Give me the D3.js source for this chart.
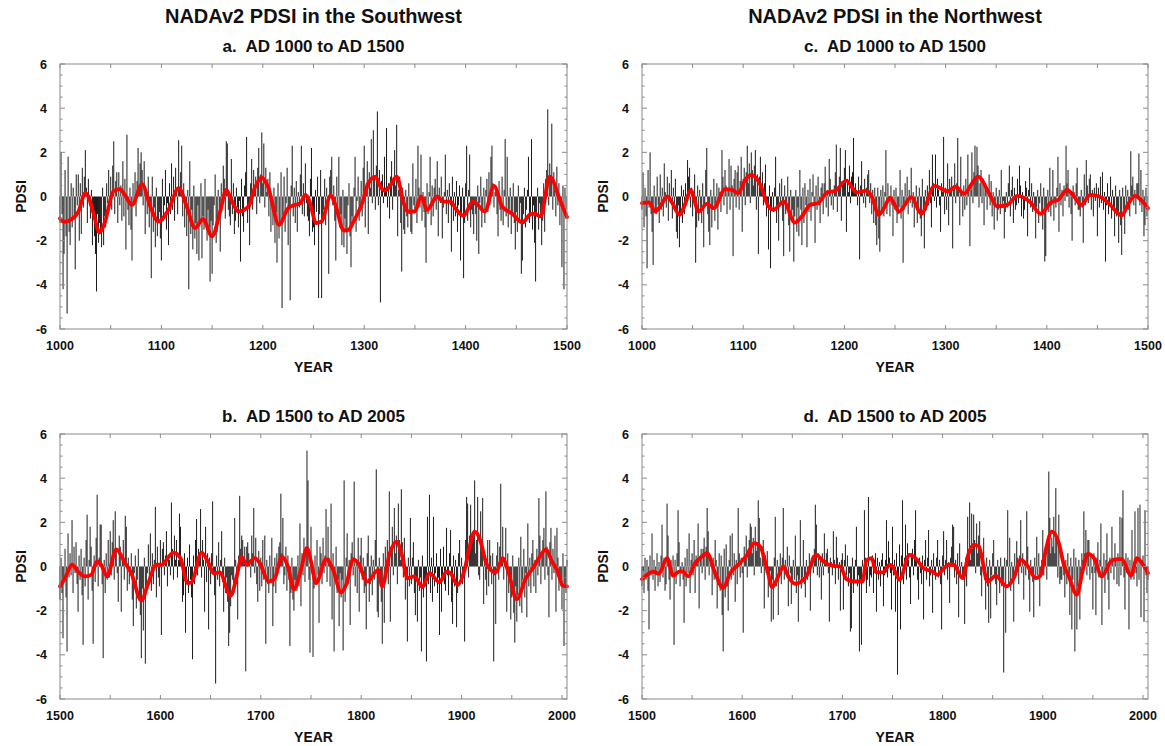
<!DOCTYPE html>
<html><head><meta charset="utf-8">
<script src="https://cdn.jsdelivr.net/npm/d3@7"></script>
<style>
body{margin:0;background:#fff}
svg{display:block}
text{font-family:"Liberation Sans",Arial,Helvetica,sans-serif;font-weight:bold;fill:#111;white-space:pre}
</style>
</head><body>
<svg id="chart" width="1165" height="746">
  <defs>
    <filter id="soft" x="-0.01" y="-0.01" width="1.02" height="1.02">
      <feGaussianBlur stdDeviation="0.45 0.2"/>
    </filter>
  </defs>
</svg>
<script>
// ---------------- DATA ----------------
const titles = ["NADAv2 PDSI in the Southwest", "NADAv2 PDSI in the Northwest"];
const subtitles = ["a.  AD 1000 to AD 1500", "b.  AD 1500 to AD 2005", "c.  AD 1000 to AD 1500", "d.  AD 1500 to AD 2005"];
const yTickLabels = [-6, -4, -2, 0, 2, 4, 6];
const xTickLabelsEarly = [1000, 1100, 1200, 1300, 1400, 1500];
const xTickLabelsLate = [1500, 1600, 1700, 1800, 1900, 2000];
const axisTitleX = "YEAR";
const axisTitleY = "PDSI";

// a. Southwest annual PDSI, AD 1000-1499
const swEarly = [
-1.2,2.0,-0.8,-4.2,-2.6,1.2,-1.8,-5.3,1.8,-1.6,
-2.2,0.6,-1.4,0.4,-0.9,-3.3,1.0,-0.4,1.0,-2.0,
0.6,-1.7,1.3,-0.5,0.9,2.1,0.4,-1.2,0.8,-0.4,
-1.0,0.3,-2.2,-0.6,-1.8,-2.6,-4.3,-0.8,-2.1,-1.2,
-1.6,-2.3,0.4,-2.2,-0.9,-1.4,0.6,-0.3,1.2,-0.5,
0.9,-0.6,1.4,2.5,-0.8,0.7,1.1,-1.2,1.1,-0.4,
0.5,-1.1,1.6,-0.9,0.8,-2.4,2.8,-0.6,-1.3,0.4,
-1.5,-2.9,0.6,-0.3,1.1,-0.9,0.7,2.2,0.4,1.5,
2.0,1.2,-0.4,1.6,-1.7,0.3,-0.8,0.9,-1.4,-0.6,
-3.7,0.9,-1.6,-0.5,-2.3,0.4,-1.8,-1.2,-0.7,-1.9,
-2.9,0.8,-1.1,-0.4,1.2,-1.5,-0.3,-2.2,0.6,-0.8,
1.5,-0.6,0.9,-1.1,1.3,0.2,-0.8,2.55,0.4,1.1,
2.3,-0.9,0.6,-1.4,-0.2,-1.8,0.3,-4.2,1.6,-1.7,
-0.6,-2.4,0.5,-1.9,-1.2,-2.6,-0.4,-2.9,-1.1,0.6,
-2.8,-0.9,-1.5,0.8,-1.2,-2.0,-0.6,-1.4,-3.85,-1.1,
-3.5,-1.3,-0.4,1.0,-2.1,-1.6,0.3,-0.9,-2.5,0.6,
-0.4,1.4,0.8,-1.0,2.5,2.4,-0.6,-0.9,-1.3,1.7,
-0.8,0.6,-1.7,-1.1,0.4,-0.5,-1.4,-0.2,-2.95,0.8,
-0.9,-1.6,0.5,1.1,2.7,-1.2,-0.4,-2.2,0.6,1.7,
-0.6,1.2,0.4,0.9,-0.8,1.3,2.2,-0.3,1.0,2.9,
0.6,2.4,-0.5,1.3,0.2,0.8,-0.9,1.1,-1.6,-0.4,
-1.3,0.4,-2.1,-0.7,-3.0,0.6,-1.9,-1.2,1.1,-5.05,
-0.8,0.9,-1.6,-0.3,1.3,-2.2,-0.6,-4.7,0.5,2.3,
-0.9,0.4,-1.2,0.7,-1.6,0.2,-0.5,1.0,2.3,-0.8,
0.6,-0.9,1.5,-0.3,-0.9,-1.1,-1.8,0.8,2.2,-1.6,
-1.4,-2.2,0.3,-0.7,0.9,-4.6,-0.8,1.2,-4.6,-1.1,
-0.6,0.8,-1.3,0.4,-0.2,-3.5,0.9,1.2,1.8,-0.4,
0.5,-1.1,-2.9,0.9,-0.6,1.8,-1.4,-0.8,-2.2,0.3,
-2.3,-1.0,-1.6,-2.6,-0.4,0.6,-1.8,-3.2,-0.9,-1.3,
0.4,1.8,-1.6,-0.2,0.9,-1.1,-0.5,0.7,-0.9,1.3,
2.3,-1.4,0.6,1.6,-1.7,1.1,0.4,2.6,-0.3,3.0,
0.9,-0.6,1.4,3.85,-0.4,1.2,-4.8,0.7,1.0,-0.3,
1.8,0.4,3.1,-0.5,0.6,-1.0,0.9,1.6,-0.6,0.8,
2.1,0.5,3.25,-1.8,0.3,0.9,-1.2,-3.4,0.4,-1.5,
-1.7,0.3,-0.9,-1.4,0.6,-0.8,-1.6,-1.7,1.5,-0.4,
-0.6,0.8,-1.2,2.3,0.4,-0.5,1.9,-1.1,0.2,-0.7,
-1.4,-3.0,0.6,-0.8,0.2,1.8,-1.3,0.5,-0.9,0.4,
0.8,-0.6,1.6,-1.8,0.4,-0.3,0.9,-1.9,-0.5,0.2,
1.9,-0.8,0.3,-1.2,0.6,-0.4,-2.5,0.9,-1.1,0.2,
-0.9,0.7,-1.6,-0.4,0.5,-2.9,-0.8,0.4,-3.7,-1.2,
0.6,2.3,-1.1,0.3,1.9,-1.4,-0.6,-0.8,-1.7,-0.4,
-0.8,-2.0,0.5,-2.6,-0.3,0.9,-1.4,-0.6,0.4,-1.2,
0.3,0.8,-0.7,1.1,-0.4,1.8,2.3,0.6,-0.5,0.2,
0.4,-0.8,-1.8,0.7,-0.6,-1.1,0.9,-1.3,0.3,2.6,
-0.9,1.8,-1.4,-0.6,0.4,-1.7,-0.8,0.6,-1.2,-2.4,
-0.7,-1.6,0.5,-1.1,-0.3,-3.5,-2.9,-0.8,0.4,-1.4,
-0.6,0.3,1.8,-1.2,-0.9,2.6,-1.5,-0.4,-2.1,-3.85,
-0.8,0.4,-1.5,-0.3,-0.9,-2.2,-1.1,0.6,-1.6,0.8,
1.2,3.95,-0.4,1.5,0.8,3.3,-0.6,1.1,0.3,-0.9,
1.35,-0.4,0.6,-1.3,-0.2,-3.2,0.5,-4.2,0.4,-0.6
];

// c. Northwest annual PDSI, AD 1000-1499
const nwEarly = [
-0.6,1.1,-1.4,0.4,-0.9,-3.25,1.2,-0.5,2.0,-0.8,
-1.6,-3.1,0.5,-0.7,-0.8,0.9,-0.4,-1.2,1.0,-0.6,
0.4,-0.9,1.5,0.2,-0.5,0.9,-1.1,0.6,-0.3,1.2,
-1.0,0.4,-0.6,0.8,-1.6,-1.9,-0.4,-2.3,-0.8,0.5,
-1.2,0.3,-0.8,0.6,-0.3,1.65,0.9,1.3,-0.5,0.4,
-0.9,0.2,1.0,-3.0,-1.4,0.5,-1.1,0.3,-0.6,-1.2,
0.6,-2.3,-0.4,1.2,2.2,-0.8,-1.6,-2.2,0.3,-1.4,
-0.5,0.8,-1.1,-0.3,0.6,-1.5,0.4,0.2,-0.7,2.1,
0.9,-0.4,1.2,0.5,-0.8,0.3,1.7,-0.6,1.4,0.5,
-2.7,0.8,1.2,-0.5,1.1,1.4,-0.6,0.7,1.8,-1.6,
0.8,1.3,-0.4,1.1,2.3,0.6,1.5,-0.3,2.0,1.2,
0.5,1.4,2.1,-0.6,1.0,-2.6,0.9,1.8,0.4,1.1,
-0.4,0.6,1.45,-0.9,-0.3,-2.4,0.5,-3.25,-0.6,0.2,
-0.7,0.4,1.8,-1.2,-0.5,-2.0,0.6,-0.3,0.8,-1.1,
-2.7,0.5,-0.8,-0.4,0.9,-1.3,-2.5,0.3,-1.1,-0.6,
-2.95,-0.9,0.3,-1.6,-0.5,-1.8,1.2,-0.6,-2.2,0.4,
-1.2,0.6,-0.4,-2.3,0.3,-0.7,0.8,-1.1,0.2,1.0,
-0.3,-2.1,0.5,-0.6,0.9,-0.4,-1.2,0.4,0.6,-0.8,
0.6,1.35,-0.5,0.3,-0.9,1.7,0.8,-0.4,0.2,-0.6,
0.5,1.1,2.35,-0.7,0.4,0.9,2.2,-1.1,0.7,0.6,
1.3,2.1,-1.6,0.8,0.2,1.4,-0.3,0.9,1.1,2.65,
0.4,0.6,0.3,-0.4,0.9,-2.85,0.5,1.6,0.2,-0.3,
0.8,-0.5,0.4,1.0,1.2,-0.3,0.6,-0.8,0.3,-1.2,
0.4,-1.3,-2.2,0.4,-1.9,-2.5,0.3,-0.8,0.5,-0.9,
0.2,2.1,-0.8,0.6,-0.2,-0.9,0.5,-0.4,-1.8,0.3,
-0.6,0.4,-1.2,-0.8,-0.5,1.2,-1.0,0.3,-3.0,-0.6,
0.6,-0.4,0.9,-0.8,0.3,-0.3,1.3,-0.5,0.2,-1.4,
-0.3,0.5,-1.2,-0.6,0.4,-1.0,-1.8,0.8,-0.7,-2.35,
0.3,-0.6,0.5,-0.4,1.2,-0.3,-1.4,1.9,0.6,-0.2,
1.9,-0.5,0.8,0.3,-0.4,-1.6,0.6,0.2,2.7,-0.8,
0.4,-0.6,1.5,-1.3,0.8,0.2,0.9,-2.35,0.5,1.5,
-0.3,0.6,2.65,0.4,-1.3,1.8,0.2,-0.9,0.5,-0.6,
0.8,-0.4,1.9,0.5,-2.25,0.3,2.0,-0.3,1.1,2.3,
0.9,2.25,1.4,-0.5,0.6,1.2,-0.3,0.8,-1.3,0.4,
0.5,-0.6,0.3,1.0,-0.4,0.7,-0.9,0.2,-1.5,-0.3,
0.4,-1.1,-0.6,0.3,-0.8,1.2,-0.4,-0.2,-1.9,-0.7,
0.2,-0.5,0.6,1.4,-0.9,0.3,0.9,-1.2,0.4,-0.6,
-0.4,0.8,-0.3,1.4,0.5,-0.9,0.2,-1.0,-0.6,0.7,
0.4,-1.8,0.3,1.3,-0.5,0.6,-0.7,0.2,-0.4,-1.9,
-0.5,0.3,-1.2,-0.3,0.6,-0.8,-1.5,0.4,-2.95,-2.7,
-0.6,0.3,-0.7,1.3,-0.9,-0.4,1.2,-1.1,-0.3,-0.5,
0.4,1.8,-1.6,0.6,-0.4,0.3,-0.9,0.5,-0.2,2.3,
0.6,1.2,-0.5,0.3,-0.8,-2.0,0.5,0.2,-0.4,0.6,
1.3,-0.6,-0.6,-0.9,0.3,-0.5,-2.1,1.0,-0.4,1.65,
0.5,-0.3,0.8,1.0,-0.6,0.3,-0.9,0.4,-0.2,0.6,
-1.8,0.4,-0.5,0.9,-0.3,1.1,-0.6,0.2,-2.95,-0.4,
0.6,-0.8,-0.4,0.9,-1.0,0.3,-0.6,-1.8,0.5,-0.9,
-0.7,-2.1,0.3,-1.3,-2.65,0.4,-0.6,-1.7,0.5,-0.4,
0.3,-0.6,-0.9,2.05,0.5,0.9,-0.4,0.3,-0.8,0.6,
0.6,1.95,-0.4,1.2,-0.7,0.3,-1.8,-1.3,0.4,-0.9
];

// b. Southwest annual PDSI, AD 1500-2005
const swLate = [
-1.5,0.4,-1.2,-3.25,-0.6,0.8,-1.4,-3.85,1.5,-0.5,
0.6,-0.4,2.1,-1.2,0.9,-0.3,1.1,-0.8,-2.05,0.5,
-0.6,0.8,-1.3,-3.55,0.4,-0.9,1.2,2.35,-1.5,0.3,
1.8,0.9,-1.1,-3.5,0.5,-0.7,1.3,3.25,-0.9,0.4,
1.9,1.9,-0.8,-4.15,0.3,-1.2,0.6,-0.6,1.2,-0.5,
1.6,-0.4,1.1,2.1,-0.6,2.5,0.8,-0.3,-1.6,1.4,
0.9,-2.05,0.5,1.2,-0.6,2.3,1.8,-1.1,0.4,-0.8,
-0.4,0.6,-1.5,-2.7,-0.3,0.5,-1.9,-0.6,0.8,-1.3,
-2.2,-4.15,-1.0,-2.9,0.4,-4.4,-1.2,-0.3,1.0,-0.6,
1.5,-1.1,0.6,-0.8,0.3,2.7,-1.4,0.9,-0.5,-0.9,
1.2,-3.1,0.8,1.1,-0.4,0.5,1.6,-0.9,0.4,0.3,
-0.4,2.9,0.8,-0.6,1.4,0.3,1.2,-0.5,0.3,2.4,
1.8,0.3,-1.6,-1.3,0.6,-3.0,-0.8,0.4,-1.2,1.0,
-0.6,-1.4,-4.2,0.5,-0.8,1.2,2.15,-0.4,0.8,0.3,
2.6,-0.5,1.2,0.3,-2.05,1.8,-0.7,0.6,-2.85,0.4,
-0.8,0.6,2.95,-0.4,-1.3,-5.3,0.5,-0.6,1.1,-0.9,
0.3,1.6,-0.7,-2.05,0.4,-1.2,-0.5,-1.6,-3.6,-3.0,
-1.8,-0.4,-0.6,-1.2,2.2,0.3,-0.8,-2.4,0.5,3.2,
0.8,1.4,1.2,0.4,0.9,-4.75,0.9,1.1,0.6,0.3,
-0.5,1.4,0.6,2.65,-0.3,1.3,-0.8,-1.6,0.7,-1.1,
0.4,-0.9,1.2,-0.6,1.4,-3.5,0.3,-0.8,-1.2,0.5,
-0.6,1.3,-2.7,-0.9,0.4,-1.2,0.6,-0.3,0.9,1.1,
3.3,0.6,2.2,-0.8,-0.4,0.9,-1.1,0.5,-0.6,-3.6,
-1.2,0.4,-1.5,-2.0,-0.6,-0.9,-1.1,0.5,-0.9,1.95,
-1.8,0.6,-0.4,1.3,-0.7,0.9,5.25,3.9,-0.6,-3.9,
1.8,-0.3,-4.1,-1.0,0.5,-0.6,1.2,-0.4,-2.55,0.9,
0.6,-0.8,1.3,-0.3,0.5,2.6,-0.7,1.8,0.4,-0.9,
2.85,-2.4,0.6,-3.85,-0.5,0.9,-1.2,-0.6,-2.7,-0.3,
-1.4,-0.6,-3.8,3.9,-1.6,0.4,1.5,-0.8,0.3,-2.65,
0.6,1.1,-0.4,3.85,-0.9,0.3,-1.2,1.3,-2.05,0.5,
1.3,-0.6,0.4,-1.2,-0.9,-2.85,0.6,1.4,-1.6,-0.8,
0.5,-1.3,0.3,-0.6,1.2,4.4,-2.05,-2.3,0.4,-0.9,
-1.6,-3.5,0.6,-2.55,0.9,-0.4,1.2,-0.8,3.4,-2.5,
0.9,1.8,-0.4,2.65,0.6,1.4,-0.8,2.85,1.2,0.3,
3.5,1.1,-0.5,1.3,-1.5,-0.6,-3.4,0.4,-0.9,2.2,
-0.8,0.4,1.1,-1.2,-2.2,-0.6,-2.5,0.3,-1.1,-0.5,
-3.85,0.5,-1.4,-0.6,-0.9,-4.3,2.25,-0.8,3.25,-1.2,
0.4,-1.6,2.25,-0.9,-0.3,0.6,-1.2,-0.5,-3.1,0.8,
-2.05,-0.6,0.9,-0.8,-1.1,1.75,-0.4,-1.3,0.6,1.65,
-1.6,-2.6,0.5,-0.9,0.3,-2.75,-1.2,0.6,1.2,-0.7,
0.4,-0.8,-0.3,-3.4,1.2,3.15,2.85,-0.5,1.4,2.8,
1.2,1.5,1.65,3.9,0.6,1.2,3.15,-0.4,-0.6,2.5,
0.8,3.1,-1.7,0.4,-0.6,-1.3,1.2,-0.9,1.2,0.5,
-0.8,0.6,-4.3,-0.4,-2.6,0.5,1.1,-0.6,0.9,3.75,
0.3,1.8,-0.6,0.4,1.75,-2.05,0.6,-1.2,-0.4,-2.4,
-1.4,0.5,-2.1,-3.45,-0.9,-2.5,-1.3,0.4,-1.8,1.35,
-2.1,-0.6,0.8,-1.4,-0.3,-2.3,1.95,-0.9,0.4,-1.2,
0.6,1.2,-0.9,0.3,-1.2,0.8,-0.4,3.1,1.4,-0.8,
0.5,1.2,1.75,-0.6,3.4,0.9,-0.4,-2.3,1.1,1.75,
-0.6,0.8,-0.3,1.4,-2.05,1.75,0.4,-1.1,-0.6,-0.9,
-1.95,0.6,-3.6,-0.8,-1.2,0.3
];

// d. Northwest annual PDSI, AD 1500-2005
const nwLate = [
-0.9,-0.2,-1.2,0.4,-0.6,0.3,-1.1,-2.85,0.5,-0.4,
1.5,-0.6,0.3,-1.1,-0.4,0.6,-0.9,0.2,-0.7,0.5,
1.9,-0.5,0.4,-1.1,-0.8,2.85,1.4,-0.6,-1.5,0.3,
-0.4,0.5,-3.55,0.3,-0.8,0.6,2.55,1.1,-0.9,-0.3,
0.2,-0.6,-2.55,0.4,-0.9,0.8,-0.3,1.5,-1.2,0.3,
0.6,-0.4,1.2,-1.2,0.5,0.3,1.95,-1.9,0.4,0.8,
-0.3,0.8,1.3,-0.6,0.9,2.65,1.6,-0.4,0.5,0.2,
-1.3,0.4,-0.6,1.2,0.3,-1.9,-0.8,0.6,-1.1,0.5,
-2.2,-3.85,0.8,-1.4,1.0,-0.9,-2.0,0.3,1.4,-0.6,
1.5,-0.4,0.6,-1.6,0.3,-0.8,2.65,0.6,-0.5,0.4,
-0.3,-3.0,0.9,0.4,1.4,-0.5,0.8,1.2,1.95,1.8,
0.6,1.3,-0.4,1.8,0.7,1.1,3.0,2.2,0.4,-0.3,
0.9,1.2,-1.9,0.5,-0.3,0.7,-1.4,-0.8,-0.2,-2.5,
-0.6,-2.4,0.4,2.25,-0.9,0.3,-2.2,-0.5,0.6,-0.8,
0.4,2.65,-0.6,0.3,-0.4,0.9,-1.8,0.5,-0.3,-1.7,
-0.8,0.3,-0.6,1.4,-1.2,-0.4,-2.5,-0.6,2.1,-1.0,
-0.5,1.2,-0.8,-1.4,0.3,-0.6,-0.3,0.6,-2.0,0.4,
0.5,-0.3,0.8,2.8,1.9,-0.4,0.6,-0.5,0.3,-1.5,
0.6,-0.4,1.5,0.3,0.6,0.8,-0.3,-2.5,0.4,0.2,
-0.4,1.6,0.3,-0.8,1.35,0.4,-0.6,0.2,-2.0,0.3,
0.6,-1.95,0.3,1.0,-0.4,0.5,-0.9,-0.3,-2.95,-2.8,
0.4,-1.2,-0.6,0.3,1.8,-0.9,-0.4,-3.85,-0.6,-3.55,
0.3,-0.6,2.55,0.4,-1.2,-0.6,3.15,-0.9,-0.4,-0.5,
0.5,-1.2,0.3,0.6,-2.05,0.4,-0.6,0.2,-0.9,0.3,
0.6,-1.8,-0.4,0.3,2.1,-0.5,1.15,0.4,-0.3,-1.95,
1.8,-0.4,0.3,-2.05,0.6,-4.9,-0.6,1.0,-2.85,0.5,
3.0,-0.8,0.4,1.9,-0.6,1.05,0.3,-0.5,-1.7,0.6,
0.8,-0.4,1.2,2.55,0.3,-0.6,-1.5,0.4,-0.3,-0.8,
0.5,-2.4,0.3,1.2,-0.6,0.4,1.65,-0.9,-0.4,0.3,
-2.1,0.6,-0.3,-0.6,0.4,1.2,-0.5,0.3,-0.8,-2.85,
0.5,1.6,-0.4,0.3,1.2,-0.6,0.2,-1.65,0.4,0.9,
1.9,1.8,-0.5,0.3,-0.8,0.6,-2.3,1.05,-0.4,0.2,
-0.6,-0.3,-2.6,0.4,-0.9,2.25,0.6,2.9,0.3,2.4,
0.8,2.35,1.2,-0.3,1.95,0.6,1.4,2.05,-0.4,-1.35,
0.5,1.3,-0.6,-1.95,0.4,-0.9,-2.55,0.3,-2.35,-0.4,
0.6,1.2,-0.5,-0.8,-1.75,0.3,-0.6,-1.2,0.4,-0.9,
-0.6,-4.8,0.4,-3.0,0.3,2.55,-0.8,1.3,-1.1,0.2,
-0.5,-2.5,0.6,-0.3,1.15,0.4,-0.8,0.5,2.1,-0.3,
0.6,-1.5,0.3,-0.4,2.5,0.9,-0.6,-2.05,0.3,-0.4,
-0.7,-2.3,0.4,-0.6,1.35,-0.4,0.6,-1.8,-0.5,0.3,
1.65,-0.4,0.8,0.5,-0.6,1.2,4.3,2.2,0.6,1.3,
0.9,2.25,0.6,3.55,1.2,-0.5,2.35,-0.8,-0.6,-0.6,
0.5,-0.4,-1.4,0.3,-0.8,0.6,-0.3,-2.2,0.4,-2.85,
-0.6,0.8,-3.85,0.4,-2.85,-0.9,0.3,-2.4,-0.5,0.6,
0.3,2.5,0.6,1.65,-0.4,1.2,1.2,-0.6,0.5,-0.3,
-1.95,0.6,-0.3,-2.2,0.4,1.1,-0.5,0.3,1.95,-2.65,
-0.4,0.6,-1.2,0.3,1.5,-0.6,-1.95,0.4,-0.3,1.8,
0.4,-0.6,1.05,0.3,-0.8,0.6,-0.9,2.25,-0.4,2.2,
3.45,-0.5,-1.95,0.6,-0.3,0.4,-2.85,0.3,-0.6,1.65,
-0.4,-0.6,2.5,-0.3,-0.9,2.65,-0.6,2.8,-2.3,0.3,
0.5,-2.5,2.55,-0.4,-1.2,-0.6
];

// smoothed (red) curves, [year, PDSI] read at turning points
const swEarlySmooth = [[1000,-1.0],[1004,-1.15],[1011,-1.05],[1018,-0.7],[1025,0.15],[1028,0],[1033,-0.75],[1039,-1.63],[1044,-1.2],[1053,0.25],[1059,0.33],[1064,0.07],[1071,-0.38],[1081,0.56],[1089,-0.45],[1097,-1.13],[1107,-0.6],[1117,0.38],[1125,-0.45],[1133,-1.43],[1141,-1.03],[1150,-1.8],[1158,-0.68],[1164,0.3],[1169,-0.15],[1176,-0.68],[1186,-0.45],[1192,0.38],[1199,0.86],[1205,0.45],[1216,-1.28],[1225,-0.53],[1230,-0.41],[1237,-0.3],[1242,0.07],[1245,-0.1],[1253,-1.2],[1258,-1.13],[1267,0.05],[1271,-0.3],[1280,-1.54],[1285,-1.5],[1289,-1.18],[1298,-0.3],[1304,0.6],[1311,0.9],[1316,0.45],[1320,0.26],[1325,0.45],[1332,0.9],[1339,-0.3],[1343,-0.68],[1350,-0.68],[1356,0],[1362,-0.6],[1372,0],[1378,-0.23],[1385,-0.23],[1391,-0.6],[1398,-0.87],[1407,-0.23],[1411,-0.33],[1419,-0.68],[1428,0.48],[1436,-0.45],[1446,-0.78],[1456,-1.18],[1464,-0.8],[1468,-0.78],[1474,-0.9],[1483,0.9],[1493,-0.15],[1500,-0.93]];
const nwEarlySmooth = [[1000,-0.3],[1007,-0.27],[1013,-0.68],[1018,-0.45],[1025,0],[1030,-0.3],[1037,-0.83],[1043,-0.3],[1048,0.3],[1056,-0.68],[1064,-0.33],[1071,-0.53],[1082,0.33],[1089,0.3],[1095,0.15],[1102,0.75],[1108,0.98],[1117,0.53],[1125,-0.45],[1130,-0.6],[1140,-0.23],[1151,-1.18],[1158,-0.9],[1166,-0.38],[1174,-0.3],[1183,0.18],[1191,0.26],[1202,0.72],[1212,0.18],[1222,0.27],[1227,0],[1234,-0.83],[1240,-0.45],[1245,-0.05],[1248,-0.23],[1254,-0.68],[1266,-0.03],[1276,-0.78],[1289,0.48],[1302,0.23],[1310,0.45],[1318,0.12],[1332,0.9],[1343,0.15],[1351,-0.45],[1361,-0.38],[1371,0.03],[1383,-0.23],[1394,-0.78],[1404,-0.27],[1412,-0.12],[1420,0.3],[1427,0],[1434,-0.38],[1443,0.07],[1452,0],[1461,-0.3],[1474,-0.85],[1481,-0.3],[1487,0.03],[1493,-0.15],[1500,-0.53]];
const swLateSmooth = [[1500,-0.9],[1505,-0.53],[1512,0.08],[1518,-0.23],[1525,-0.45],[1531,-0.38],[1537,0.23],[1541,0.08],[1547,-0.45],[1556,0.78],[1565,0.15],[1571,-0.3],[1581,-1.54],[1588,-0.75],[1596,0.08],[1601,0.08],[1613,0.63],[1620,0.38],[1627,-0.75],[1631,-0.72],[1641,0.63],[1648,0.15],[1653,-0.3],[1659,-0.27],[1670,-1.33],[1676,-0.45],[1681,0.42],[1686,0.08],[1694,0.38],[1699,0.15],[1708,-0.68],[1714,-0.53],[1721,0.45],[1727,0],[1733,-1.03],[1740,-0.15],[1746,0.83],[1750,0.23],[1755,-0.75],[1765,0.33],[1772,-0.15],[1780,-1.18],[1785,-0.83],[1792,0.33],[1797,0.15],[1806,-0.68],[1817,-0.15],[1821,-0.9],[1828,0.53],[1835,1.13],[1841,0.45],[1846,-0.53],[1853,-0.45],[1861,-0.93],[1868,-0.3],[1878,-0.72],[1885,-0.23],[1889,-0.3],[1896,-0.83],[1903,-0.15],[1908,0.9],[1913,1.58],[1919,1.13],[1924,0.23],[1931,-0.23],[1934,-0.27],[1941,0.38],[1946,-0.15],[1955,-1.48],[1964,-0.53],[1971,-0.08],[1977,0.38],[1984,0.78],[1990,0.23],[1995,-0.15],[2001,-0.87],[2005,-0.9]];
const nwLateSmooth = [[1500,-0.57],[1505,-0.38],[1511,-0.23],[1517,-0.33],[1525,0.38],[1531,-0.42],[1537,-0.23],[1541,-0.23],[1546,-0.45],[1553,0.15],[1558,0.38],[1565,0.6],[1573,-0.3],[1581,-0.98],[1588,-0.3],[1596,0.08],[1605,0.53],[1612,1.06],[1618,0.9],[1625,-0.15],[1630,-0.93],[1636,-0.45],[1641,0],[1646,-0.45],[1653,-0.78],[1664,-0.45],[1674,0.53],[1681,0.23],[1691,0.03],[1698,0],[1704,-0.57],[1712,-0.68],[1720,-0.68],[1724,0.27],[1729,0.38],[1734,-0.27],[1741,-0.27],[1747,0.08],[1750,0],[1757,-0.6],[1767,0.53],[1773,0.38],[1781,-0.08],[1790,-0.23],[1795,-0.38],[1800,-0.15],[1806,0.08],[1811,0.08],[1820,-0.53],[1826,0.6],[1831,0.98],[1836,0.93],[1845,-0.68],[1853,-0.42],[1864,-0.9],[1871,-0.53],[1878,0.3],[1884,0.08],[1893,-0.53],[1898,-0.38],[1903,0.75],[1909,1.58],[1916,1.06],[1921,0.08],[1926,-0.45],[1934,-1.28],[1940,-0.15],[1945,0.57],[1951,0.38],[1959,-0.45],[1968,0.23],[1974,0.33],[1979,0.33],[1988,-0.42],[1994,0.38],[1999,0.15],[2005,-0.3]];

// ---------------- LAYOUT ----------------
const svg = d3.select("#chart");
const frameColor = "#8a8a8a";
const barColor = "#1e1e1e";
const lineColor = "#ff0000";

const panels = [
  {vals: swEarly, smooth: swEarlySmooth, first: 1000, domain: [1000, 1500], xt: xTickLabelsEarly, sub: subtitles[0], x0: 60, x1: 567, y0: 64, y1: 329},
  {vals: swLate,  smooth: swLateSmooth,  first: 1500, domain: [1500, 2005], xt: xTickLabelsLate,  sub: subtitles[1], x0: 60, x1: 567, y0: 434, y1: 699},
  {vals: nwEarly, smooth: nwEarlySmooth, first: 1000, domain: [1000, 1500], xt: xTickLabelsEarly, sub: subtitles[2], x0: 642, x1: 1148, y0: 64, y1: 329},
  {vals: nwLate,  smooth: nwLateSmooth,  first: 1500, domain: [1500, 2005], xt: xTickLabelsLate,  sub: subtitles[3], x0: 642, x1: 1148, y0: 434, y1: 699}
];

// column titles
[[titles[0], (60 + 567) / 2], [titles[1], (642 + 1148) / 2]].forEach(([t, cx]) => {
  svg.append("text").attr("x", cx).attr("y", 22.5).attr("text-anchor", "middle")
    .style("font-size", "20px").text(t);
});

panels.forEach(p => {
  const g = svg.append("g");
  const xs = d3.scaleLinear().domain(p.domain).range([p.x0, p.x1]);
  const ys = d3.scaleLinear().domain([-6, 6]).range([p.y1, p.y0]);
  const bw = xs(p.domain[0] + 1) - xs(p.domain[0]);

  // bars (slightly softened, like the resampled original)
  g.append("g").attr("filter", "url(#soft)")
    .selectAll("rect").data(p.vals).join("rect")
    .attr("x", (d, i) => xs(p.first + i) - bw / 2)
    .attr("width", bw)
    .attr("y", d => ys(Math.max(0, d)))
    .attr("height", d => Math.abs(ys(d) - ys(0)))
    .attr("fill", barColor);

  // smoothed curve
  const line = d3.line().x(d => xs(d[0])).y(d => ys(d[1])).curve(d3.curveMonotoneX);
  g.append("path").attr("d", line(p.smooth)).attr("fill", "none")
    .attr("stroke", lineColor).attr("stroke-width", 3.8)
    .attr("stroke-linejoin", "round").attr("stroke-linecap", "round");

  // frame
  g.append("rect").attr("x", p.x0).attr("y", p.y0)
    .attr("width", p.x1 - p.x0).attr("height", p.y1 - p.y0)
    .attr("fill", "none").attr("stroke", frameColor).attr("stroke-width", 1);

  // x ticks every 50 years (inward, top & bottom)
  d3.range(p.domain[0], p.domain[1] + 1, 50).forEach(v => {
    const x = xs(v);
    g.append("line").attr("x1", x).attr("x2", x).attr("y1", p.y1).attr("y2", p.y1 - 4).attr("stroke", frameColor);
    g.append("line").attr("x1", x).attr("x2", x).attr("y1", p.y0).attr("y2", p.y0 + 4).attr("stroke", frameColor);
  });
  // y ticks every 0.5 (inward, left & right)
  d3.range(-6, 6.01, 0.5).forEach(v => {
    const y = ys(v);
    const len = (Math.abs(v) % 2 === 0) ? 5 : 2.5;
    g.append("line").attr("x1", p.x0).attr("x2", p.x0 + len).attr("y1", y).attr("y2", y).attr("stroke", frameColor);
    g.append("line").attr("x1", p.x1).attr("x2", p.x1 - len).attr("y1", y).attr("y2", y).attr("stroke", frameColor);
  });

  // tick labels
  yTickLabels.forEach(v => {
    g.append("text").attr("x", p.x0 - 13).attr("y", ys(v)).attr("dy", "0.36em")
      .attr("text-anchor", "end").style("font-size", "12.5px").text(String(v));
  });
  p.xt.forEach(v => {
    g.append("text").attr("x", xs(v)).attr("y", p.y1 + 21)
      .attr("text-anchor", "middle").style("font-size", "12.5px").text(String(v));
  });

  // axis titles
  g.append("text").attr("x", (p.x0 + p.x1) / 2).attr("y", p.y1 + 43)
    .attr("text-anchor", "middle").style("font-size", "14px").text(axisTitleX);
  const cy = (p.y0 + p.y1) / 2;
  g.append("text").attr("transform", `translate(${p.x0 - 34},${cy}) rotate(-90)`)
    .attr("text-anchor", "middle").style("font-size", "14px").text(axisTitleY);

  // subtitle
  g.append("text").attr("x", (p.x0 + p.x1) / 2).attr("y", p.y0 - 12)
    .attr("text-anchor", "middle").style("font-size", "17px").text(p.sub);
});
</script>
</body></html>
